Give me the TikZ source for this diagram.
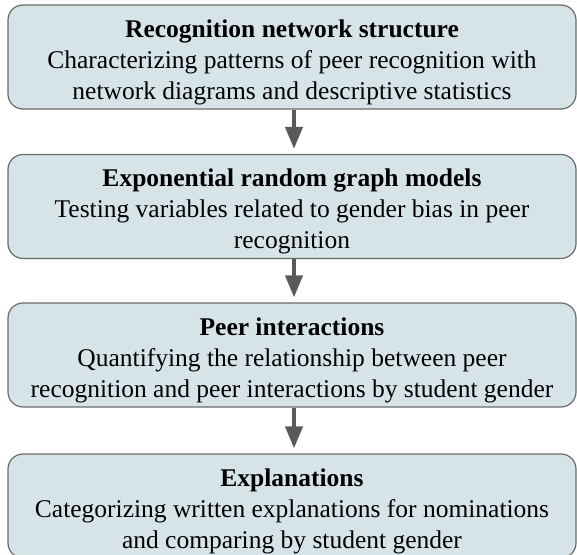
\documentclass[tikz,border=0pt]{standalone}
\usepackage{fontspec}
\setmainfont{Liberation Serif}
\usetikzlibrary{arrows.meta,positioning}
\definecolor{boxfill}{HTML}{D6E4E8}
\definecolor{boxline}{HTML}{6A6A6A}
\definecolor{arrowgray}{HTML}{5A5A5A}
\tikzset{
  stagebox/.style={draw=boxline, fill=boxfill, line width=1.2pt, rounded corners=15pt,
    minimum width=568pt, minimum height=104pt, inner sep=0pt},
  stagetext/.style={align=center, inner sep=0pt, yshift=-5pt,
    font=\fontsize{25.5pt}{31pt}\selectfont},
  flowarrow/.style={draw=arrowgray, line width=4pt, -{Triangle[width=17pt,length=22pt]}, shorten >=5pt}
}
\begin{document}
\begin{tikzpicture}[x=1pt,y=1pt]
\useasboundingbox (0,0) rectangle (577,-554);
\clip (0,0) rectangle (577,-554);
\node[stagebox] (b1) at (292,-57) {};
\node[stagebox] (b2) at (292,-206.5) {};
\node[stagebox] (b3) at (292,-355) {};
\node[stagebox] (b4) at (292,-506) {};
\node[stagetext] (t1) at (b1.center) {\textbf{Recognition network structure}\\Characterizing patterns of peer recognition with\\network diagrams and descriptive statistics};
\node[stagetext] (t2) at (b2.center) {\textbf{Exponential random graph models}\\Testing variables related to gender bias in peer\\recognition};
\node[stagetext] (t3) at (b3.center) {\textbf{Peer interactions}\\Quantifying the relationship between peer\\recognition and peer interactions by student gender};
\node[stagetext] (t4) at (b4.center) {\textbf{Explanations}\\Categorizing written explanations for nominations\\and comparing by student gender};
\coordinate (a1s) at ([xshift=2pt]b1.south);
\coordinate (a1e) at ([xshift=2pt]b2.north);
\coordinate (a2s) at ([xshift=2pt]b2.south);
\coordinate (a2e) at ([xshift=2pt]b3.north);
\coordinate (a3s) at ([xshift=2pt]b3.south);
\coordinate (a3e) at ([xshift=2pt]b4.north);
\draw[flowarrow] (a1s) -- (a1e);
\draw[flowarrow] (a2s) -- (a2e);
\draw[flowarrow] (a3s) -- (a3e);
\end{tikzpicture}
\end{document}
